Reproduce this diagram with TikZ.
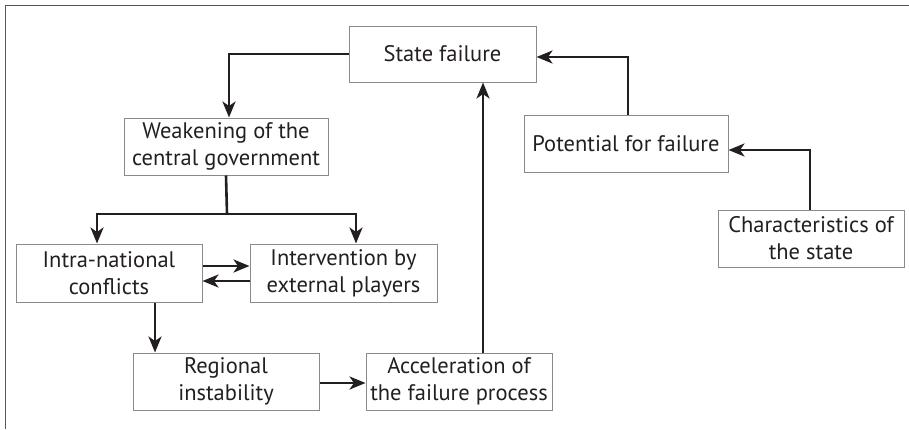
\documentclass[tikz,border=0pt]{standalone}
\usepackage{fontspec}
\setmainfont{PT Sans}
\usetikzlibrary{arrows.meta,calc}
\definecolor{txt}{HTML}{231F20}
\definecolor{boxc}{HTML}{8A8A8A}
\definecolor{framec}{HTML}{555555}
\tikzset{
  box/.style={draw=boxc, line width=1pt, rectangle, align=center, inner sep=0pt,
    text=txt, font=\fontsize{22.5}{27}\selectfont},
  arr/.style={draw=txt, line width=2.6pt, -{Stealth[length=16pt,width=13pt,inset=4.5pt]}},
  ln/.style={draw=txt, line width=2.6pt},
}
\begin{document}
\begin{tikzpicture}[x=1pt,y=-1pt]
\useasboundingbox (0,0) rectangle (909,429);
\draw[framec, line width=1pt] (909,5.5) -- (5.5,5.5) -- (5.5,429);
\node[box, minimum width=187pt, minimum height=56pt] (sf) at (442.5,54) {State failure};
\node[box, minimum width=204pt, minimum height=57pt] (wk) at (226,146.5) {Weakening of the\\central government};
\node[box, minimum width=186pt, minimum height=58pt] (intra) at (109,273) {Intra-national\\conflicts};
\node[box, minimum width=187pt, minimum height=58pt] (interv) at (343.5,273) {Intervention by\\external players};
\node[box, minimum width=186pt, minimum height=57pt] (reg) at (226,381.5) {Regional\\instability};
\node[box, minimum width=186pt, minimum height=57pt] (acc) at (459,381.5) {Acceleration of\\the failure process};
\node[box, minimum width=204pt, minimum height=57pt] (pot) at (626,143.5) {Potential for failure};
\node[box, minimum width=186pt, minimum height=57pt] (chr) at (811,238.5) {Characteristics of\\the state};
\coordinate (split) at (227,214);
\draw[arr] (sf.west) -| ([xshift=3pt]wk.north);
\draw[ln] (wk.south) -- (split);
\draw[arr] (split) -| ([xshift=-12pt]intra.north);
\draw[arr] (split) -| ([xshift=12.5pt]interv.north);
\draw[arr] ([yshift=7pt]intra.east) -- ([yshift=7pt]interv.west);
\draw[arr] ([yshift=-8pt]interv.west) -- ([yshift=-8pt]intra.east);
\draw[arr] ([xshift=46pt]intra.south) -- ([xshift=46pt]intra.south |- reg.north);
\draw[arr] ([yshift=-1.5pt]reg.east) -- ([yshift=-1.5pt]acc.west);
\draw[arr] ([xshift=24pt]acc.north) -- ([xshift=24pt]acc.north |- sf.south);
\draw[arr] ([xshift=2pt]pot.north) |- ([yshift=-3pt]sf.east);
\draw[arr] ([xshift=-1pt]chr.north) |- ([yshift=-6.5pt]pot.east);
\end{tikzpicture}
\end{document}
